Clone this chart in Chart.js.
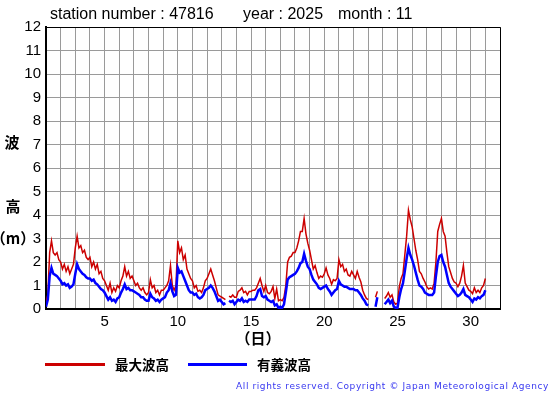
<!DOCTYPE html>
<html>
<head>
<meta charset="utf-8">
<script src="https://cdn.jsdelivr.net/npm/chart.js@4/dist/chart.umd.min.js"></script>
<style>
  body { margin: 0; background: #fff; }
  #wrap { position: relative; width: 555px; height: 395px; overflow: hidden; }
  #wrap canvas { position: absolute; left: 0; top: 0; }
  .t { position: absolute; white-space: nowrap; font-family: "Liberation Sans", Arial, sans-serif; color: #000; }
  .jp { position: absolute; white-space: nowrap; font-family: "Noto Sans CJK JP", sans-serif; font-weight: bold; color: #000; }
  .key { position: absolute; height: 3px; }
</style>
</head>
<body>
<div id="wrap">
  <canvas id="waveChart" width="555" height="395"></canvas>

  <div class="t" style="left:50px;top:6px;font-size:16px;line-height:16px;">station number : 47816</div>
  <div class="t" style="left:243px;top:6px;font-size:16px;line-height:16px;">year : 2025</div>
  <div class="t" style="left:338px;top:6px;font-size:16px;line-height:16px;">month : 11</div>

  <div class="jp" style="left:-88px;width:200px;text-align:center;top:134px;font-size:15px;line-height:16px;">波</div>
  <div class="jp" style="left:-87px;width:200px;text-align:center;top:198px;font-size:15px;line-height:16px;">高</div>
  <div class="jp" style="left:-87px;width:200px;text-align:center;top:230px;font-size:15px;line-height:16px;">（m）</div>

  <div class="jp" style="left:158px;width:200px;text-align:center;top:330px;font-size:15px;line-height:16px;">（日）</div>

  <div class="key" style="left:45px;top:363px;width:60px;background:#cc0000;"></div>
  <div class="jp" style="left:115px;top:357px;font-size:13.5px;line-height:14px;">最大波高</div>
  <div class="key" style="left:188px;top:363px;width:59px;background:#0000ff;"></div>
  <div class="jp" style="left:257px;top:357px;font-size:13.5px;line-height:14px;">有義波高</div>

  <div class="t" style="right:6px;top:381px;font-family:'DejaVu Sans',sans-serif;font-size:9px;line-height:10px;letter-spacing:0.6px;color:#3838f0;">All rights reserved. Copyright © Japan Meteorological Agency</div>
</div>

<script>
/* ---------- Data (3-hourly, from day 1 00h to day 31 00h) ---------- */

const readingsPerDay = 8;

// 最大波高 (m)
const maxWave = [
  0.3, 0.6, 2.4, 2.9, 2.4, 2.3, 2.4, 2.1,        // 1
  2.0, 1.7, 1.9, 1.6, 1.8, 1.5, 1.7, 1.9,        // 2
  2.6, 3.1, 2.6, 2.7, 2.4, 2.5, 2.2, 2.1,        // 3
  2.2, 1.8, 2.0, 1.7, 1.9, 1.5, 1.6, 1.3,        // 4
  1.2, 1.0, 0.8, 1.1, 0.7, 0.9, 0.75, 1.0,       // 5
  0.9, 1.2, 1.4, 1.8, 1.4, 1.6, 1.3, 1.4,        // 6
  1.2, 1.0, 1.1, 0.9, 0.8, 0.9, 0.7, 0.6,        // 7
  0.7, 1.25, 0.9, 1.0, 0.7, 0.8, 0.6, 0.8,       // 8
  0.8, 0.9, 1.0, 1.2, 1.85, 1.0, 0.8, 1.0,       // 9
  2.9, 2.4, 2.6, 2.1, 2.3, 1.7, 1.5, 1.3,        // 10
  1.2, 0.9, 1.0, 0.75, 0.8, 0.7, 0.9, 1.2,       // 11
  1.3, 1.5, 1.7, 1.45, 1.2, 0.9, 0.6, 0.55,      // 12
  0.5, 0.45, 0.4, null, 0.55, 0.5, 0.6, 0.5,     // 13
  0.5, 0.75, 0.8, 0.9, 0.7, 0.75, 0.6, 0.75,     // 14
  0.75, 0.8, 0.8, 0.9, 1.1, 1.3, 1.0, 0.75,      // 15
  1.0, 0.7, 0.65, 0.75, 0.95, 0.45, 0.85, 0.35,  // 16
  0.4, 0.35, 0.5, 1.0, 2.0, 2.2, 2.25, 2.4,      // 17
  2.4, 2.6, 2.9, 3.3, 3.3, 3.85, 3.2, 2.8,       // 18
  2.5, 2.1, 1.7, 1.85, 1.55, 1.3, 1.4, 1.35,     // 19
  1.5, 1.75, 1.45, 1.3, 1.05, 1.25, 1.2, 1.3,    // 20
  2.1, 1.8, 1.9, 1.6, 1.7, 1.45, 1.4, 1.6,       // 21
  1.45, 1.3, 1.6, 1.35, 1.15, 0.8, 0.6, 0.45,    // 22
  0.4, null, null, null, 0.5, 0.75, null, null,  // 23
  null, 0.45, 0.55, 0.7, 0.5, 0.6, 0.3, 0.2,     // 24
  0.25, 0.95, 1.3, 1.5, 2.3, 3.1, 4.2, 3.8,      // 25
  3.5, 3.0, 2.5, 2.1, 1.6, 1.5, 1.3, 1.15,       // 26
  0.95, 0.85, 0.9, 0.85, 1.1, 2.0, 3.3, 3.6,     // 27
  3.85, 3.3, 3.1, 2.4, 1.8, 1.55, 1.3, 1.15,     // 28
  1.1, 0.95, 1.1, 1.4, 1.85, 1.1, 0.95, 0.8,     // 29
  0.75, 0.65, 0.9, 0.7, 0.8, 0.7, 0.9, 1.0,      // 30
  1.3
];

// 有義波高 (m)
const sigWave = [
  0.1, 0.4, 1.4, 1.75, 1.5, 1.45, 1.4, 1.3,      // 1
  1.2, 1.05, 1.1, 1.0, 1.05, 0.9, 0.95, 1.05,    // 2
  1.5, 1.9, 1.7, 1.6, 1.5, 1.45, 1.35, 1.3,      // 3
  1.3, 1.2, 1.25, 1.1, 1.05, 0.95, 0.85, 0.8,    // 4
  0.7, 0.55, 0.4, 0.5, 0.35, 0.4, 0.3, 0.45,     // 5
  0.5, 0.7, 0.85, 1.05, 0.85, 0.9, 0.8, 0.8,     // 6
  0.75, 0.7, 0.65, 0.6, 0.5, 0.5, 0.4, 0.35,     // 7
  0.35, 0.65, 0.5, 0.45, 0.35, 0.4, 0.3, 0.4,    // 8
  0.45, 0.5, 0.7, 0.8, 1.1, 0.75, 0.55, 0.6,     // 9
  1.75, 1.55, 1.6, 1.4, 1.2, 1.0, 0.8, 0.7,      // 10
  0.7, 0.6, 0.65, 0.5, 0.45, 0.5, 0.6, 0.8,      // 11
  0.85, 0.9, 1.0, 0.9, 0.75, 0.55, 0.35, 0.4,    // 12
  0.3, 0.2, 0.25, null, 0.35, 0.3, 0.35, 0.2,    // 13
  0.3, 0.4, 0.35, 0.45, 0.3, 0.35, 0.3, 0.4,     // 14
  0.4, 0.4, 0.4, 0.55, 0.8, 0.85, 0.55, 0.5,     // 15
  0.55, 0.4, 0.35, 0.3, 0.35, 0.15, 0.2, 0.05,   // 16
  0.1, 0.05, 0.2, 0.7, 1.25, 1.35, 1.4, 1.45,    // 17
  1.5, 1.6, 1.75, 1.95, 2.0, 2.35, 2.05, 1.8,    // 18
  1.7, 1.45, 1.25, 1.15, 1.05, 0.9, 0.85, 0.9,   // 19
  0.95, 1.0, 0.85, 0.75, 0.6, 0.7, 0.8, 0.85,    // 20
  1.2, 1.05, 1.0, 0.95, 0.95, 0.9, 0.85, 0.85,   // 21
  0.85, 0.8, 0.8, 0.7, 0.6, 0.45, 0.35, 0.2,     // 22
  0.15, null, null, null, 0.1, 0.5, null, null,  // 23
  null, 0.2, 0.3, 0.4, 0.25, 0.35, 0.1, 0.05,    // 24
  0.05, 0.5, 0.85, 1.1, 1.6, 2.15, 2.6, 2.3,     // 25
  2.1, 1.85, 1.55, 1.25, 1.0, 0.95, 0.85, 0.7,   // 26
  0.65, 0.6, 0.6, 0.6, 0.7, 1.4, 2.0, 2.25,      // 27
  2.3, 2.0, 1.8, 1.45, 1.1, 0.95, 0.85, 0.75,    // 28
  0.65, 0.55, 0.6, 0.7, 0.85, 0.6, 0.55, 0.5,    // 29
  0.4, 0.3, 0.45, 0.4, 0.5, 0.45, 0.55, 0.6,     // 30
  0.8
];

const dayMin = 1;
const dayMax = 32;
const dayLabels = [5, 10, 15, 20, 25, 30];
const heightMax = 12;

/* ---------- Build points ---------- */

function toPoints(values) {
  return values.map((v, i) => ({ x: dayMin + i / readingsPerDay, y: v }));
}

/* ---------- Frame ---------- */

const framePlugin = {
  id: "frame",
  afterDraw(chart) {
    const { ctx, chartArea: a } = chart;
    ctx.save();
    ctx.strokeStyle = "#000";
    ctx.lineWidth = 1;
    ctx.beginPath();
    ctx.moveTo(a.left, a.top + 0.5);
    ctx.lineTo(a.right + 0.5, a.top + 0.5);
    ctx.lineTo(a.right + 0.5, a.bottom);
    ctx.stroke();
    ctx.restore();
  }
};

/* ---------- Chart ---------- */

const tickFont = { family: "'Liberation Sans', Arial, sans-serif", size: 15 };

new Chart(document.getElementById("waveChart"), {
  type: "line",
  data: {
    datasets: [
      {
        label: "最大波高",
        data: toPoints(maxWave),
        borderColor: "#cc0000",
        borderWidth: 1.5,
        pointRadius: 0,
        tension: 0,
        spanGaps: false,
        order: 2
      },
      {
        label: "有義波高",
        data: toPoints(sigWave),
        borderColor: "#0000ff",
        borderWidth: 2.5,
        pointRadius: 0,
        tension: 0,
        spanGaps: false,
        order: 1
      }
    ]
  },
  options: {
    responsive: false,
    animation: false,
    devicePixelRatio: 1,
    layout: { padding: { left: 0, top: 27, right: 55, bottom: 0 } },
    plugins: {
      legend: { display: false },
      tooltip: { enabled: false }
    },
    scales: {
      x: {
        type: "linear",
        min: dayMin,
        max: dayMax,
        afterFit: s => { s.height = 86; },
        border: { color: "#000", width: 2 },
        grid: { color: "#9a9a9a", lineWidth: 1, drawTicks: false },
        ticks: {
          stepSize: 1,
          autoSkip: false,
          maxRotation: 0,
          padding: 4,
          color: "#000",
          font: tickFont,
          callback: v => (dayLabels.includes(v) ? String(v) : "")
        }
      },
      y: {
        min: 0,
        max: heightMax,
        afterFit: s => { s.width = 46; },
        border: { color: "#000", width: 2 },
        grid: { color: "#9a9a9a", lineWidth: 1, drawTicks: false },
        ticks: {
          stepSize: 1,
          padding: 5,
          color: "#000",
          font: tickFont
        }
      }
    }
  },
  plugins: [framePlugin]
});
</script>
</body>
</html>
